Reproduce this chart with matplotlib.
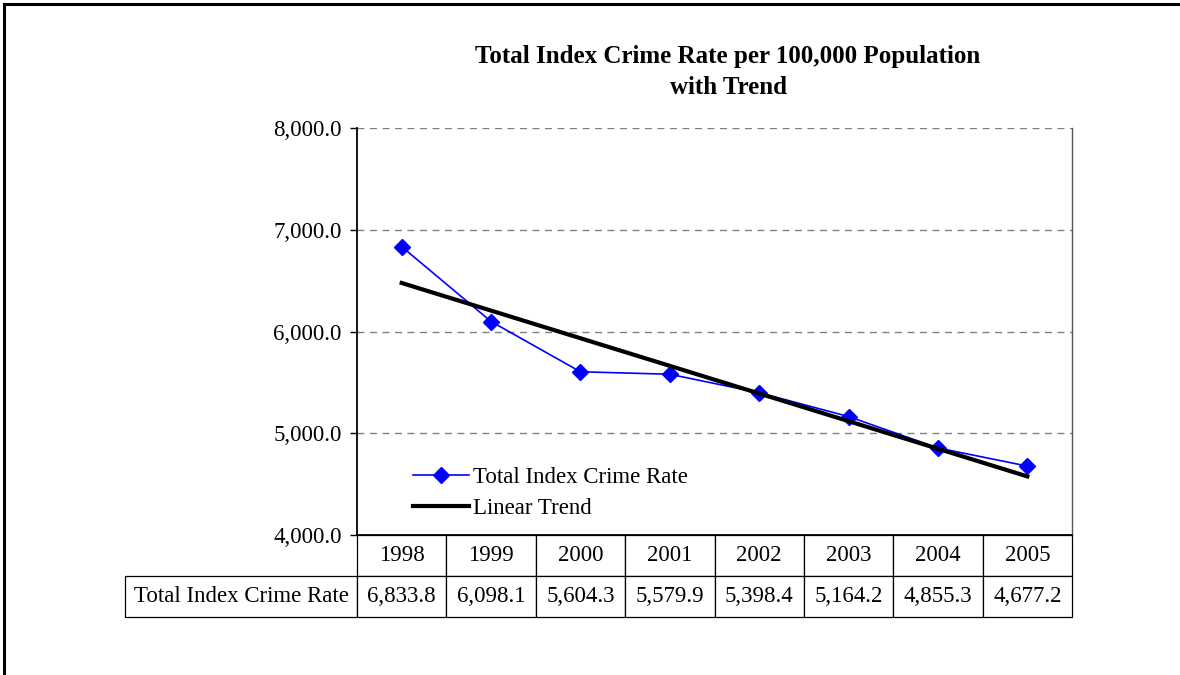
import numpy as np
import matplotlib.pyplot as plt
from matplotlib.lines import Line2D

plt.rcParams['font.family'] = ['Liberation Serif', 'DejaVu Serif']

years = ['1998', '1999', '2000', '2001', '2002', '2003', '2004', '2005']
crime_rate = [6833.8, 6098.1, 5604.3, 5579.9, 5398.4, 5164.2, 4855.3, 4677.2]
series_name = 'Total Index Crime Rate'
trend_name = 'Linear Trend'
title = 'Total Index Crime Rate per 100,000 Population\nwith Trend'
y_ticks = [4000, 5000, 6000, 7000, 8000]

W, H = 1180, 675
fig = plt.figure(figsize=(W / 100, H / 100), dpi=100)

# outer chart border (only top and left visible in the reference)
fig.add_artist(Line2D([4 / W, 4 / W], [0, 1 - 4 / H], color='black', lw=2.2))
fig.add_artist(Line2D([4 / W, 1], [1 - 4 / H, 1 - 4 / H], color='black', lw=2.2))

left, right, top, bottom = 357, 1072, 128, 535
ax = fig.add_axes([left / W, 1 - bottom / H, (right - left) / W, (bottom - top) / H])

x = np.arange(len(years))
y = np.array(crime_rate)

# linear trend from a least squares fit
slope, icpt = np.polyfit(x, y, 1)
trend = slope * x + icpt

ax.plot(x, y, color='#0000FF', lw=1.2, marker='D', markersize=8.5, label=series_name, zorder=3)
ax.plot(x, trend, color='black', lw=3, label=trend_name, zorder=4)

ax.set_xlim(-0.5, len(years) - 0.5)
ax.set_ylim(4000, 8000)
ax.set_yticks(y_ticks)
ax.set_yticklabels([f'{v:,.1f}' for v in y_ticks], fontsize=16.5)
ax.tick_params(axis='y', direction='out', length=5, width=1, pad=6)
ax.set_xticks([])

for v in y_ticks[1:]:
    ax.axhline(v, color='#808080', lw=1, ls=(0, (5, 4)), zorder=1)

ax.spines['top'].set_visible(False)
ax.spines['left'].set_linewidth(1.3)
ax.spines['bottom'].set_linewidth(1.3)
ax.spines['right'].set_color('#555555')
ax.spines['right'].set_linewidth(1)

leg = ax.legend(loc='upper left', bbox_to_anchor=(0.065, 0.19), frameon=False,
                fontsize=16.5, handlelength=2.45, handletextpad=0.2, labelspacing=0.45,
                borderaxespad=0)

# data table under the plot
tbl_left = (125 - left) / (right - left)
tbl_h = (617 - bottom) / (bottom - top)
cell_text = [[''] + years, [series_name] + [f'{v:,.1f}' for v in crime_rate]]
col_w = [232] + [(right - left) / len(years)] * len(years)
tbl = ax.table(cellText=cell_text, colWidths=col_w, cellLoc='center',
               bbox=[tbl_left, -tbl_h, 1 - tbl_left, tbl_h])
tbl.auto_set_font_size(False)
for (r, c), cell in tbl.get_celld().items():
    cell.set_linewidth(0.9)
    cell.get_text().set_fontsize(16.5)
    if r == 0 and c == 0:
        cell.visible_edges = ''

fig.text(728 / W, 1 - 72 / H, title, ha='center', va='center', fontsize=18,
         fontweight='bold', linespacing=1.5)

fig.savefig('out.png', dpi=100)
